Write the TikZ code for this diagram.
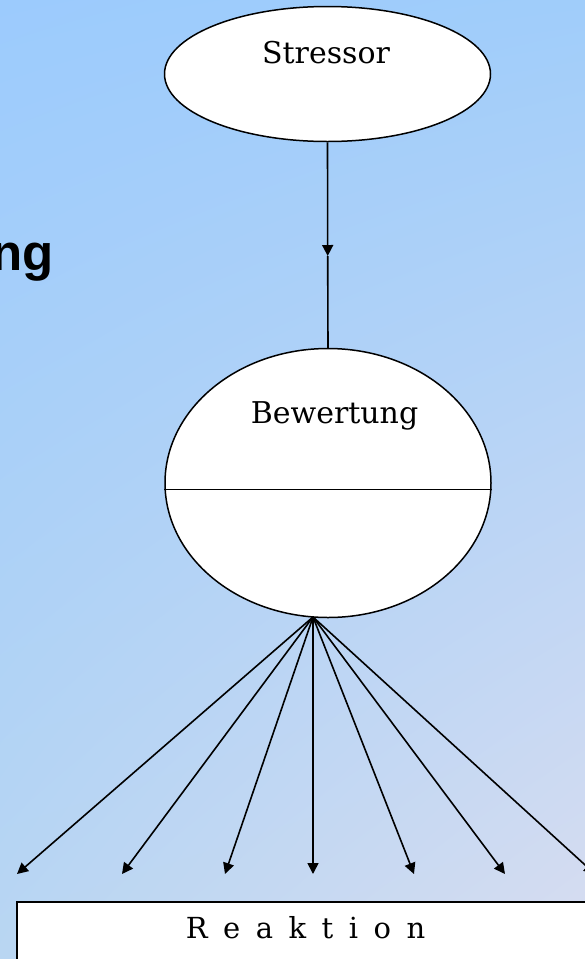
\documentclass[tikz,border=0pt]{standalone}
\usepackage{fontspec}
\setmainfont{DejaVu Serif}
\newfontfamily\headfont{Liberation Sans}
\usetikzlibrary{arrows.meta,shapes.geometric,shadings}

\definecolor{bgTL}{RGB}{156,203,253}
\definecolor{bgTR}{RGB}{160,205,250}
\definecolor{bgBL}{RGB}{185,214,242}
\definecolor{bgBR}{RGB}{216,221,240}

\tikzset{
  bubble/.style={ellipse, draw=black, fill=white, line width=1.5pt, inner sep=0pt},
  label text/.style={font=\fontsize{30}{36}\selectfont, inner sep=0pt, anchor=base},
  link/.style={line width=1.6pt, draw=black},
  arrowlink/.style={link, -{Triangle[length=11pt,width=11pt]}},
}

\begin{document}
\begin{tikzpicture}[x=1pt,y=-1pt]
\useasboundingbox (0,0) rectangle (585,959);
\clip (0,0) rectangle (585,959);
% background gradient
\shade[upper left=bgTL, upper right=bgTR, lower left=bgBL, lower right=bgBR]
  (0,0) rectangle (585,959);

% heading fragment at the left edge
\node[anchor=base east, inner sep=0pt, font=\headfont\bfseries\fontsize{51}{60}\selectfont]
  (head) at (54,270) {ng};

% stressor
\node[bubble, minimum width=326pt, minimum height=135pt] (str) at (327.5,74) {};
\node[label text] (strlbl) at (326,63) {Stressor};

% appraisal
\node[bubble, minimum width=326pt, minimum height=269pt] (bew) at (328,483) {};
\node[label text] (bewlbl) at (334.5,423) {Bewertung};
\draw[link] ([yshift=-6.3pt]bew.west) -- ([yshift=-6.3pt]bew.east);

% stressor -> appraisal
\coordinate (mid) at (327.7,256);
\draw[arrowlink] (str.south) -- (mid);
\draw[link] (mid) -- (bew.north);

% reaction box
\node[draw=black, fill=white, line width=1.8pt, anchor=north west,
      minimum width=620pt, minimum height=120pt] (reak) at (16,901) {};
\node[label text, font=\fontsize{29}{35}\selectfont] (reaklbl) at (305.5,938)
  {R\kern15.5pt e\kern15.5pt a\kern15.5pt k\kern15.5pt t\kern15.5pt i\kern15.5pt o\kern15.5pt n};

% fan of reactions
\coordinate (fan) at (313,617);
\coordinate (r1) at (17,874);
\coordinate (r2) at (122,874);
\coordinate (r3) at (225,874);
\coordinate (r4) at (313,874);
\coordinate (r5) at (414,874);
\coordinate (r6) at (505,874);
\coordinate (r7) at (595,874);
\foreach \t in {r1,r2,r3,r4,r5,r6,r7}
  \draw[arrowlink] (fan) -- (\t);
\end{tikzpicture}
\end{document}
